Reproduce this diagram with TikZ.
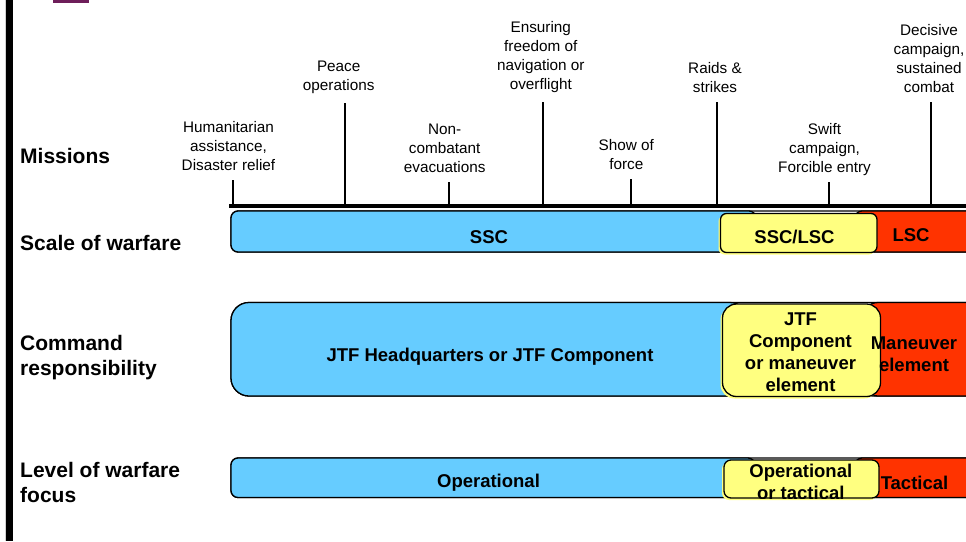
\documentclass[tikz,border=0pt]{standalone}
\usepackage{fontspec}
\setmainfont{Liberation Sans}
\definecolor{sscblue}{RGB}{102,204,255}
\definecolor{mixyellow}{RGB}{255,255,128}
\definecolor{lscred}{RGB}{255,51,0}
\definecolor{titlebar}{RGB}{110,30,90}

\begin{document}
\begin{tikzpicture}[x=1pt, y=-1pt,
    mis/.style = {anchor=south, align=center, inner sep=0pt, font=\fontsize{15.3}{19}\selectfont},
    row/.style = {anchor=west, align=left, inner sep=0pt, font=\fontsize{21}{25.5}\selectfont\bfseries},
    txt/.style = {align=center, inner sep=0pt, font=\fontsize{18.5}{22}\selectfont\bfseries},
    bar/.style = {draw, line width=1.3pt},
    tick/.style = {line width=2.2pt, shorten >=9pt}]
    \useasboundingbox (0,0) rectangle (966,541);
    \clip (0,0) rectangle (966,541);

    % page edge and title remnant
    \fill[gray!35] (4.5,0) rectangle (5.5,541);
    \fill (6,0) rectangle (13,541);
    \fill[titlebar] (53,0) rectangle (89,3);

    % missions axis
    \coordinate (a0) at (229,206);
    \coordinate (a1) at (966,206);
    \draw[line width=3.2pt] (a0) -- (a1);

    \coordinate (b1) at (233,206);
    \coordinate (b2) at (345,206);
    \coordinate (b3) at (449,206);
    \coordinate (b4) at (543,206);
    \coordinate (b5) at (631,206);
    \coordinate (b6) at (717,206);
    \coordinate (b7) at (829,206);
    \coordinate (b8) at (931,206);

    \node[mis] (m1) at (228.5,171) {Humanitarian\\assistance,\\Disaster relief};
    \node[mis] (m2) at (338.7,94) {Peace\\operations};
    \node[mis] (m3) at (444.7,173) {Non-\\combatant\\evacuations};
    \node[mis] (m4) at (540.8,93.2) {Ensuring\\freedom of\\navigation or\\overflight};
    \node[mis] (m5) at (626.3,170) {Show of\\force};
    \node[mis] (m6) at (715,92.5) {Raids \&\\strikes};
    \node[mis] (m7) at (824.5,176.2) {Swift\\campaign,\\Forcible entry};
    \node[mis] (m8) at (929,92.5) {Decisive\\campaign,\\sustained\\combat};

    \path[tick]
    (b1) edge (b1 |- m1.south)
    (b2) edge (b2 |- m2.south)
    (b3) edge (b3 |- m3.south)
    (b4) edge (b4 |- m4.south)
    (b5) edge (b5 |- m5.south)
    (b6) edge (b6 |- m6.south)
    (b7) edge[shorten >=6pt] (b7 |- m7.south)
    (b8) edge (b8 |- m8.south)
    ;

    % row headings
    \node[row, anchor=base west] (r1) at (20,163) {Missions};
    \node[row, anchor=base west] (r2) at (20,250.5) {Scale of warfare};
    \node[row] (r3) at (20,357.4) {Command\\responsibility};
    \node[row] (r4) at (20,482.7) {Level of warfare\\focus};

    % scale of warfare
    \draw[bar, fill=white, rounded corners=7pt] (231,211) rectangle (990,252);
    \draw[bar, fill=sscblue, rounded corners=7pt] (231,211) rectangle (756,252);
    \draw[bar, fill=lscred, rounded corners=7pt] (855,211) rectangle (990,252);
    \fill[mixyellow, rounded corners=6pt] (718.5,215.5) rectangle (875,254.5);
    \draw[bar, fill=mixyellow, rounded corners=6pt] (720.5,213.5) rectangle (877,252.5);
    \node[txt, anchor=base] (s1) at (489,243.5) {SSC};
    \node[txt, anchor=base] (s2) at (794.5,243.5) {SSC/LSC};
    \node[txt, anchor=base] (s3) at (911,241.5) {LSC};

    % command responsibility
    \draw[bar, fill=white, rounded corners=18pt] (231,302.5) rectangle (990,396);
    \draw[bar, fill=sscblue, rounded corners=18pt] (231,302.5) rectangle (748,396);
    \draw[bar, fill=lscred, rounded corners=16pt] (862,302.5) rectangle (990,396);
    \fill[mixyellow, rounded corners=14pt] (720.5,306) rectangle (878.5,398.5);
    \draw[bar, fill=mixyellow, rounded corners=14pt] (722.5,304) rectangle (880.5,396.5);
    \node[txt, anchor=base] (c1) at (490,361.5) {JTF Headquarters or JTF Component};
    \node[txt] (c2) at (800.5,352.7) {JTF\\Component\\or maneuver\\element};
    \node[txt] (c3) at (914,354.3) {Maneuver\\element};

    % level of warfare focus
    \draw[bar, fill=white, rounded corners=7pt] (231,458) rectangle (990,497.5);
    \draw[bar, fill=sscblue, rounded corners=7pt] (231,458) rectangle (755,497.5);
    \draw[bar, fill=lscred, rounded corners=7pt] (855,458) rectangle (990,497.5);
    \fill[mixyellow, rounded corners=7pt] (722,462) rectangle (877,500);
    \draw[bar, fill=mixyellow, rounded corners=7pt] (724,460) rectangle (879,498);
    \node[txt, anchor=base] (f1) at (488.5,487.8) {Operational};
    \begin{scope}
        \clip[rounded corners=7pt] (724,460) rectangle (879,498);
        \node[txt] (f2) at (800.8,482.3) {Operational\\or tactical};
    \end{scope}
    \node[txt, anchor=base] (f3) at (914.5,489) {Tactical};
\end{tikzpicture}
\end{document}
